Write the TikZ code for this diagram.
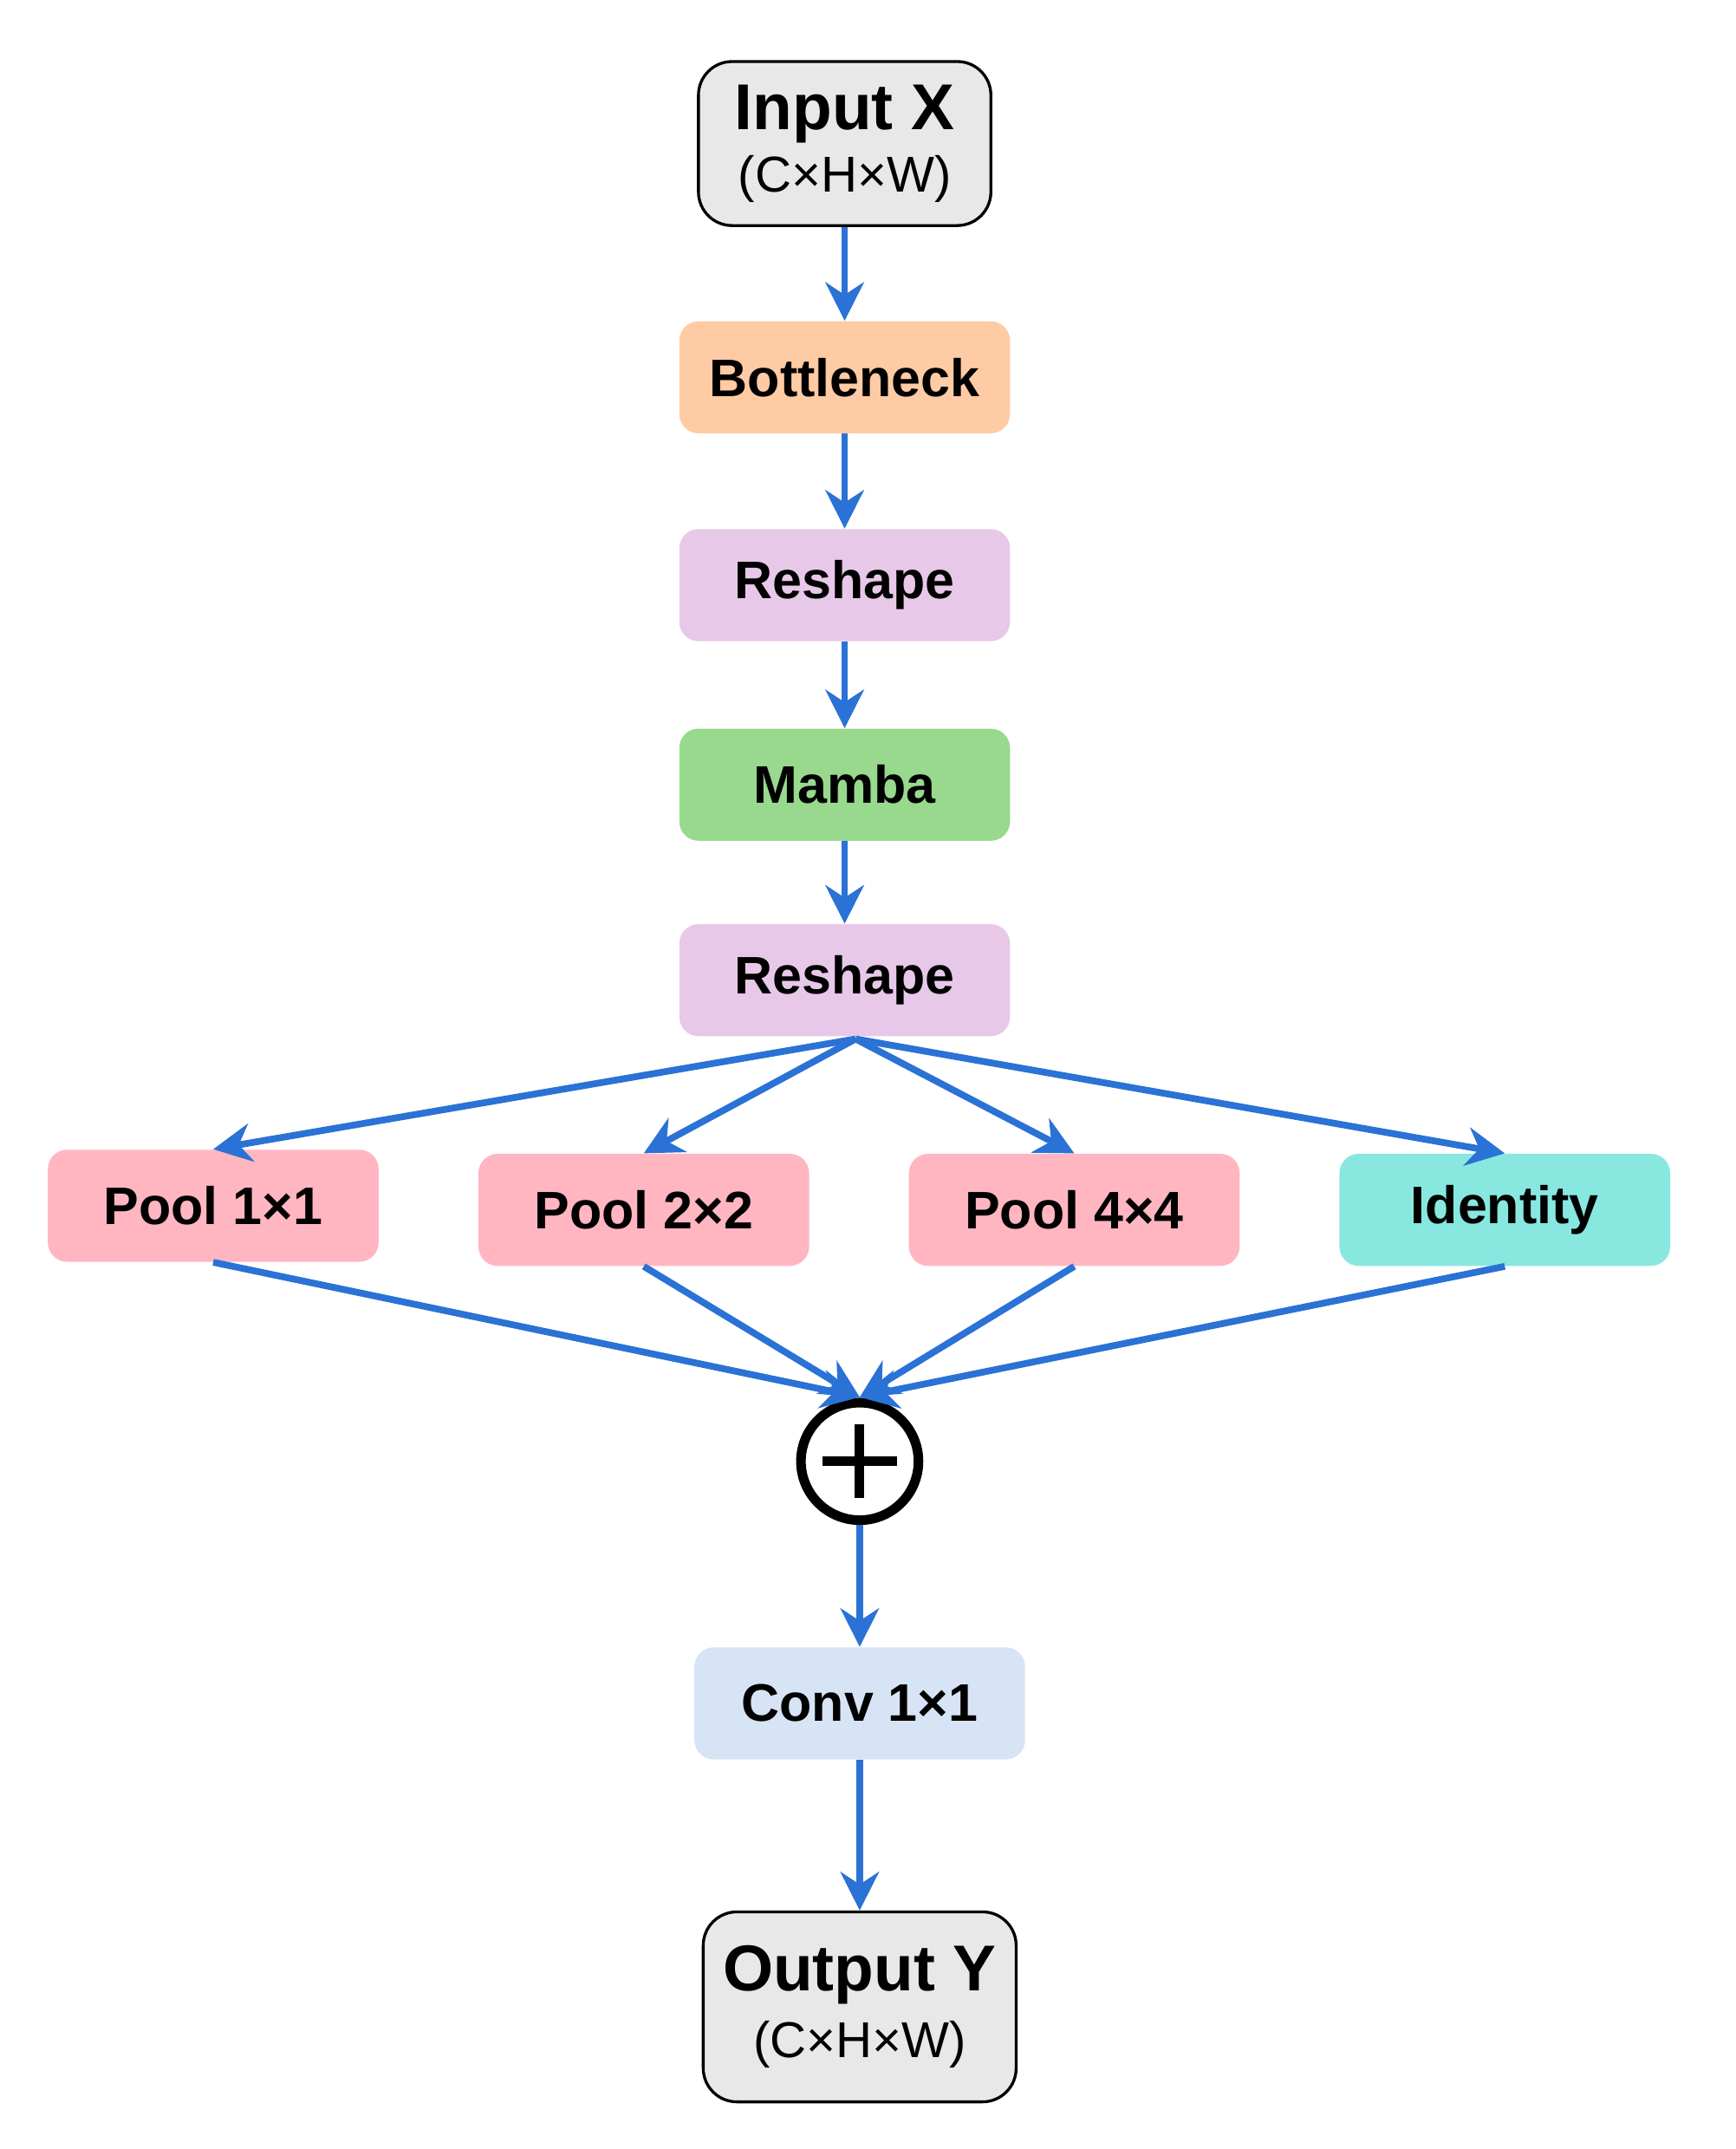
\documentclass[tikz,border=0pt]{standalone}
\usepackage{fontspec}
\setmainfont{Liberation Sans}
\usetikzlibrary{arrows.meta,calc}
\definecolor{flowblue}{HTML}{2A72D5}
\definecolor{inoutgray}{HTML}{E8E8E8}
\definecolor{bottleorange}{HTML}{FFCBA4}
\definecolor{reshapepink}{HTML}{E8C8E8}
\definecolor{mambagreen}{HTML}{98D98E}
\definecolor{poolred}{HTML}{FFB6C1}
\definecolor{identcyan}{HTML}{88E8E0}
\definecolor{convblue}{HTML}{D6E4F5}
\tikzset{
  block/.style={rounded corners=8pt, minimum width=4.84cm, minimum height=1.64cm,
    font=\fontsize{22}{26}\selectfont\bfseries, inner sep=0pt},
  io/.style={draw=black, line width=1.2pt, rounded corners=14pt, fill=inoutgray,
    align=center, inner sep=0pt},
  flow/.style={draw=flowblue, line width=2.8pt, -{Stealth[length=16pt,width=16pt]}},
}
\begin{document}
\begin{tikzpicture}[x=0.02cm, y=-0.02cm]
\useasboundingbox (0,0) rectangle (1270,1572);

\node[io, minimum width=4.28cm, minimum height=2.4cm] (in) at (618,105)
  {{\fontsize{27}{32}\selectfont\bfseries Input X}\\[4pt]{\fontsize{21}{25}\selectfont (C×H×W)}};
\node[block, fill=bottleorange] (bn) at (618,276) {Bottleneck};
\node[block, fill=reshapepink] (rs1) at (618,428) {Reshape};
\node[block, fill=mambagreen] (mb) at (618,574) {Mamba};
\node[block, fill=reshapepink] (rs2) at (618,717) {Reshape};

\node[block, fill=poolred] (p1) at (156,882) {Pool 1×1};
\node[block, fill=poolred] (p2) at (471,885) {Pool 2×2};
\node[block, fill=poolred] (p4) at (786,885) {Pool 4×4};
\node[block, fill=identcyan] (id) at (1101,885) {Identity};

\node[circle, draw=black, line width=4pt, minimum size=1.72cm, inner sep=0pt] (sum) at (629,1069) {};
\draw[line width=4pt] ($(sum.center)+(-27,0)$) -- ($(sum.center)+(27,0)$)
  ($(sum.center)+(0,-27)$) -- ($(sum.center)+(0,27)$);

\node[block, fill=convblue] (cv) at (629,1246) {Conv 1×1};
\node[io, minimum width=4.58cm, minimum height=2.78cm] (out) at (629,1468)
  {{\fontsize{27}{32}\selectfont\bfseries Output Y}\\[6pt]{\fontsize{21}{25}\selectfont (C×H×W)}};

\coordinate (split) at (626,760);
\coordinate (merge) at (629,1022);

\draw[flow] (in) -- (bn);
\draw[flow] (bn) -- (rs1);
\draw[flow] (rs1) -- (mb);
\draw[flow] (mb) -- (rs2);
\foreach \b in {p1, p2, p4, id} {
  \draw[flow] (split) -- (\b.north);
  \draw[flow] (\b.south) -- (merge);
}
\draw[flow] (sum) -- (cv);
\draw[flow] (cv) -- (out);
\end{tikzpicture}
\end{document}
